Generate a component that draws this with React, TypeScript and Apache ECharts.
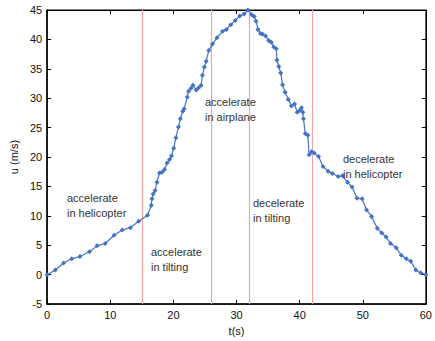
import React, { useEffect, useRef } from "react";
import * as echarts from "echarts";

const tValues = [0, 1.3, 2.6, 3.9, 5.2, 6.7, 7.9, 9.2, 10.6, 11.9, 13.2, 14.5, 15.9, 16.5, 16.6, 16.8, 17.1, 17.4, 17.8, 18.2, 18.6, 19.0, 19.4, 19.7, 20.05, 20.4, 20.8, 21.1, 21.5, 21.7, 22.2, 22.4, 22.8, 23.1, 23.6, 24.0, 24.4, 24.6, 24.9, 25.2, 25.6, 26.2, 26.9, 27.8, 28.4, 29.1, 29.8, 30.5, 31.2, 31.8, 32.4, 32.8, 33.1, 33.4, 33.8, 34.1, 34.6, 35.1, 35.5, 35.9, 36.3, 36.4, 36.7, 37.0, 37.3, 37.7, 38.2, 38.7, 39.2, 39.6, 40.0, 40.3, 40.5, 40.6, 40.9, 41.3, 41.5, 41.9, 42.3, 43.0, 43.7, 44.5, 45.2, 46.1, 46.8, 47.6, 48.3, 49.1, 49.9, 50.6, 51.4, 52.3, 53.0, 53.7, 54.4, 55.3, 56.1, 56.9, 57.6, 58.4, 59.2, 60];
const uValues = [0, 0.8, 2.0, 2.7, 3.1, 3.9, 4.9, 5.3, 6.7, 7.6, 8.0, 9.1, 10.1, 11.8, 12.9, 13.7, 14.3, 15.7, 17.3, 17.4, 17.9, 19.0, 19.6, 20.2, 21.5, 23.3, 25.1, 26.5, 27.8, 28.2, 30.2, 31.2, 31.7, 32.2, 31.4, 31.8, 32.2, 33.9, 35.3, 36.3, 38.1, 39.2, 40.3, 41.4, 41.7, 42.5, 43.2, 44.0, 44.3, 45.0, 44.2, 43.9, 43.1, 41.7, 41.0, 40.9, 40.6, 39.8, 39.5, 38.7, 38.4, 36.5, 35.4, 34.3, 32.3, 31.0, 29.8, 28.7, 29.0, 27.6, 27.9, 28.4, 27.6, 26.5, 24.0, 23.7, 20.4, 20.9, 20.7, 20.1, 18.4, 17.6, 17.2, 16.7, 16.8, 15.7, 14.9, 13.0, 12.9, 11.0, 9.9, 7.9, 7.1, 6.4, 5.3, 4.6, 3.3, 2.7, 2.3, 0.8, 0.3, 0];
const phaseBoundaries = [15, 26, 32, 42];
const annotations = [
  { text: "accelerate\nin helicopter", x: 67, y: 190 },
  { text: "accelerate\nin tilting", x: 151, y: 244 },
  { text: "accelerate\nin airplane", x: 205, y: 94 },
  { text: "decelerate\nin tilting", x: 253, y: 195 },
  { text: "decelerate\nin helicopter", x: 343, y: 151 },
];

export default function App() {
  const ref = useRef<HTMLDivElement>(null);
  useEffect(() => {
    if (!ref.current) return;
    const chart = echarts.init(ref.current, null, { renderer: "svg" });
    const font = "Arial, 'Liberation Sans', sans-serif";
    const blue = "#4472C4";
    chart.setOption({
      animation: false,
      backgroundColor: "#fff",
      grid: { left: 47, right: 7, top: 10, bottom: 30, show: true, borderColor: "#000", borderWidth: 1 },
      xAxis: [
        {
          type: "value", min: 0, max: 60, interval: 10,
          name: "t(s)", nameLocation: "middle", nameGap: 19,
          nameTextStyle: { color: "#111", fontSize: 11, fontFamily: font },
          axisLine: { show: true, onZero: false, lineStyle: { color: "#000", width: 1.5 } },
          axisTick: { show: true, inside: true, length: 4, lineStyle: { color: "#000" } },
          axisLabel: { color: "#111", fontSize: 11, fontFamily: font, margin: 5 },
          splitLine: { show: false },
        },
        {
          type: "value", min: 0, max: 60, interval: 10, position: "top",
          axisLine: { show: true, onZero: false, lineStyle: { color: "#000", width: 1 } },
          axisTick: { show: true, inside: true, length: 4, lineStyle: { color: "#000" } },
          axisLabel: { show: false }, splitLine: { show: false },
        },
      ],
      yAxis: [
        {
          type: "value", min: -5, max: 45, interval: 5,
          name: "u (m/s)", nameLocation: "middle", nameGap: 28,
          nameTextStyle: { color: "#111", fontSize: 11, fontFamily: font },
          axisLine: { show: true, onZero: false, lineStyle: { color: "#000", width: 1.5 } },
          axisTick: { show: true, inside: true, length: 4, lineStyle: { color: "#000" } },
          axisLabel: { color: "#111", fontSize: 11, fontFamily: font, margin: 5 },
          splitLine: { show: false },
        },
        {
          type: "value", min: -5, max: 45, interval: 5, position: "right",
          axisLine: { show: true, onZero: false, lineStyle: { color: "#000", width: 1 } },
          axisTick: { show: true, inside: true, length: 4, lineStyle: { color: "#000" } },
          axisLabel: { show: false }, splitLine: { show: false },
        },
      ],
      series: [
        {
          type: "line",
          data: tValues.map((t, i) => [t, uValues[i]]),
          symbol: "diamond",
          symbolSize: 5,
          showSymbol: true,
          lineStyle: { color: blue, width: 1.2 },
          itemStyle: { color: blue },
          z: 3,
          markLine: {
            silent: true,
            symbol: "none",
            label: { show: false },
            lineStyle: { color: "#f4a3ab", type: "solid", width: 1.2 },
            data: phaseBoundaries.map((x) => ({ xAxis: x })),
            z: 2,
          },
        },
      ],
      graphic: annotations.map((a) => ({
        type: "text",
        left: a.x,
        top: a.y,
        style: { text: a.text, fill: "#333", font: `11px ${font}`, lineHeight: 15 },
        z: 10,
      })),
    });
    return () => chart.dispose();
  }, []);
  return <div ref={ref} style={{ position: "fixed", left: 0, top: 0, width: 435, height: 341 }} />;
}
